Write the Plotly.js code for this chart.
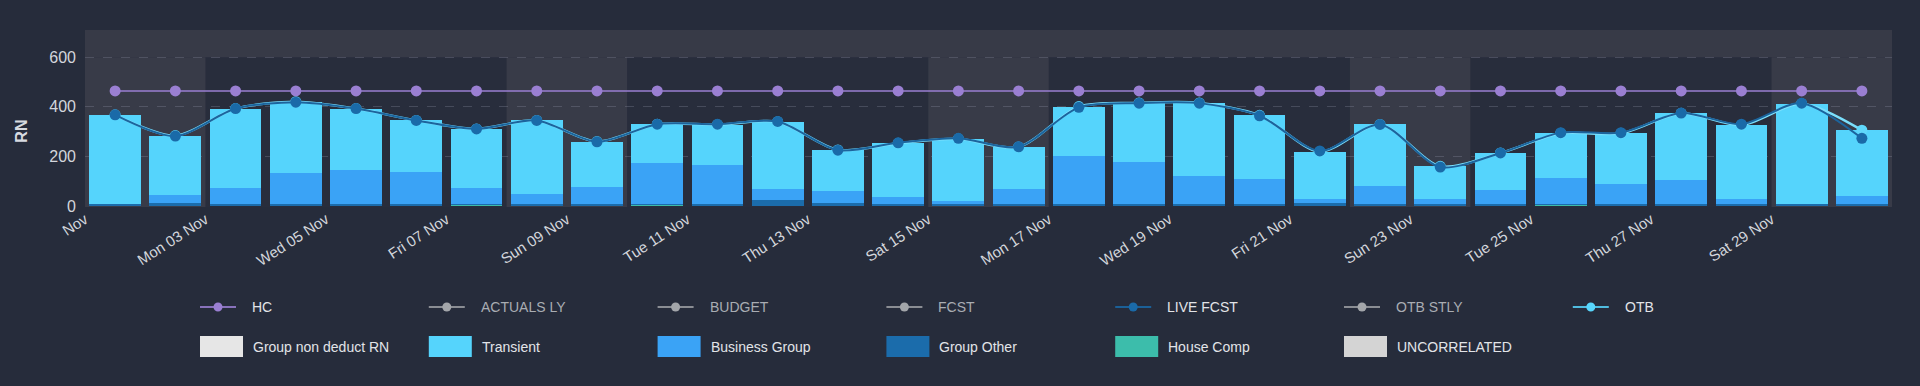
<!DOCTYPE html>
<html>
<head>
<meta charset="utf-8">
<script src="https://cdn.plot.ly/plotly-3.0.1.min.js"></script>
<style>
  html, body { margin: 0; padding: 0; background: #262c3b; }
  #chart { width: 1920px; height: 386px; }
</style>
</head>
<body>
<div id="chart"></div>
<script>
// Room nights per day, November 2025
const days = [
  '2025-11-01','2025-11-02','2025-11-03','2025-11-04','2025-11-05','2025-11-06','2025-11-07','2025-11-08','2025-11-09','2025-11-10',
  '2025-11-11','2025-11-12','2025-11-13','2025-11-14','2025-11-15','2025-11-16','2025-11-17','2025-11-18','2025-11-19','2025-11-20',
  '2025-11-21','2025-11-22','2025-11-23','2025-11-24','2025-11-25','2025-11-26','2025-11-27','2025-11-28','2025-11-29','2025-11-30'
];

// Stacked segments (bottom to top)
const houseComp     = [2, 2, 2, 2, 2, 2, 3, 2, 2, 4, 2, 2, 2, 2, 2, 2, 2, 2, 2, 2, 2, 2, 2, 2, 4, 2, 2, 2, 2, 2];
const groupOther    = [7, 10, 6, 6, 6, 6, 5, 6, 6, 6, 6, 22, 12, 6, 8, 6, 6, 6, 6, 6, 12, 8, 6, 6, 6, 6, 6, 6, 6, 6];
const businessGroup = [0, 32, 64, 126, 138, 130, 63, 40, 67, 163, 156, 44, 45, 29, 10, 60, 195, 169, 112, 101, 13, 72, 19, 56, 105, 79, 96, 21, 2, 33];
const transient     = [359, 240, 321, 287, 247, 207, 240, 297, 185, 157, 164, 272, 167, 216, 251, 170, 198, 239, 296, 257, 192, 247, 133, 150, 178, 206, 270, 298, 403, 264];

// Line series
const otb      = [368, 284, 393, 421, 393, 345, 311, 345, 260, 330, 328, 340, 226, 253, 271, 238, 401, 416, 416, 366, 219, 329, 160, 214, 293, 293, 374, 327, 413, 306];
const liveFcst = [368, 282, 393, 419, 393, 345, 311, 345, 259, 330, 330, 341, 225, 255, 273, 239, 398, 415, 415, 364, 222, 329, 157, 214, 296, 296, 375, 330, 415, 273];
const hc       = [464, 464, 464, 464, 464, 464, 464, 464, 464, 464, 464, 464, 464, 464, 464, 464, 464, 464, 464, 464, 464, 464, 464, 464, 464, 464, 464, 464, 464, 464];

// Axis labels
const tickDays = ['2025-11-01','2025-11-03','2025-11-05','2025-11-07','2025-11-09','2025-11-11','2025-11-13','2025-11-15',
                  '2025-11-17','2025-11-19','2025-11-21','2025-11-23','2025-11-25','2025-11-27','2025-11-29'];
const tickLabels = ['Nov','Mon 03 Nov','Wed 05 Nov','Fri 07 Nov','Sun 09 Nov','Tue 11 Nov','Thu 13 Nov','Sat 15 Nov',
                    'Mon 17 Nov','Wed 19 Nov','Fri 21 Nov','Sun 23 Nov','Tue 25 Nov','Thu 27 Nov','Sat 29 Nov'];
const weekendStarts = ['2025-11-01','2025-11-08','2025-11-15','2025-11-22','2025-11-29'];

// Legend entries
const lineNames  = ['HC','ACTUALS LY','BUDGET','FCST','LIVE FCST','OTB STLY','OTB'];
const lineColors = ['#9a7fd2','#a3a6aa','#a3a6aa','#a3a6aa','#1a6aa8','#a3a6aa','#58d6fc'];
const lineDimmed = [false, true, true, true, false, true, false];
const barNames   = ['Group non deduct RN','Transient','Business Group','Group Other','House Comp','UNCORRELATED'];
const barColors  = ['#e6e6e6','#55d4fc','#3aa3f6','#1b6cab','#3cbdab','#d4d4d4'];

// Figure geometry
const W = 1920, H = 386, ML = 85, MR = 28, MT = 30, MB = 179;
const PW = W - ML - MR, PH = H - MT - MB;
const px2x = p => (p - ML) / PW;
const px2y = p => (H - MB - p) / PH;
const DAY = 86400000;

const FONT = '"Liberation Sans", Arial, sans-serif';

function barTrace(name, values, color) {
  return {
    type: 'bar', name: name, x: days, y: values,
    xperiod: DAY, xperiodalignment: 'middle',
    marker: { color: color, line: { width: 0 } },
    showlegend: false, hoverinfo: 'x+y+name'
  };
}

function lineTrace(name, values, lineColor, markerColor, width) {
  return {
    type: 'scatter', mode: 'lines+markers', name: name, x: days, y: values,
    xperiod: DAY, xperiodalignment: 'middle',
    line: { color: lineColor, width: width, shape: 'spline', smoothing: 0.8 },
    marker: { color: markerColor, size: 11 },
    showlegend: false, cliponaxis: false
  };
}

const traces = [
  barTrace('House Comp', houseComp, barColors[4]),
  barTrace('Group Other', groupOther, barColors[3]),
  barTrace('Business Group', businessGroup, barColors[2]),
  barTrace('Transient', transient, barColors[1]),
  lineTrace('OTB', otb, '#7adffc', '#5fd8fc', 2.5),
  lineTrace('HC', hc, 'rgba(154,127,210,0.75)', '#9a7fd2', 2),
  lineTrace('LIVE FCST', liveFcst, '#1c649d', '#1a6aa8', 2)
];

// Background bands: upper band over the whole width, weekends down to the axis
const shapes = [{
  type: 'rect', layer: 'below', xref: 'paper', yref: 'y',
  x0: 0, x1: 1, y0: 600, y1: 720,
  fillcolor: '#373a47', line: { width: 0 }
}];
weekendStarts.forEach(d => {
  const start = new Date(d + 'T00:00:00Z').getTime();
  shapes.push({
    type: 'rect', layer: 'below', xref: 'x', yref: 'y',
    x0: start, x1: start + 2 * DAY, y0: -10, y1: 600,
    fillcolor: '#383b48', line: { width: 0 }
  });
});

// Legend, two rows: line series then stacked segments
const annotations = [];
const LEG_X0 = 200, LEG_STEP = 228.8, ROW1 = 307, ROW2 = 346.5;
lineNames.forEach((name, k) => {
  const x0 = LEG_X0 + LEG_STEP * k;
  const dim = lineDimmed[k];
  shapes.push({
    type: 'line', xref: 'paper', yref: 'paper',
    x0: px2x(x0), x1: px2x(x0 + 36), y0: px2y(ROW1), y1: px2y(ROW1),
    line: { color: lineColors[k], width: 2 }, opacity: dim ? 0.8 : 0.85
  });
  shapes.push({
    type: 'circle', xref: 'paper', yref: 'paper',
    x0: px2x(x0 + 13.5), x1: px2x(x0 + 22.5), y0: px2y(ROW1 + 4.5), y1: px2y(ROW1 - 4.5),
    fillcolor: lineColors[k], line: { width: 0 }
  });
  annotations.push({
    xref: 'paper', yref: 'paper', x: px2x(x0 + 50), y: px2y(ROW1),
    xanchor: 'left', yanchor: 'middle', showarrow: false, text: name,
    font: { family: FONT, size: 14, color: dim ? '#a9adb3' : '#e2e4e8' }
  });
});
barNames.forEach((name, k) => {
  const x0 = LEG_X0 + LEG_STEP * k;
  shapes.push({
    type: 'rect', xref: 'paper', yref: 'paper',
    x0: px2x(x0), x1: px2x(x0 + 43), y0: px2y(ROW2 + 10.5), y1: px2y(ROW2 - 10.5),
    fillcolor: barColors[k], line: { width: 0 }
  });
  annotations.push({
    xref: 'paper', yref: 'paper', x: px2x(x0 + 51), y: px2y(ROW2),
    xanchor: 'left', yanchor: 'middle', showarrow: false, text: name,
    font: { family: FONT, size: 14, color: '#e2e4e8' }
  });
});

// Vertical axis title centred on the 0–600 span
annotations.push({
  xref: 'paper', yref: 'y', x: px2x(22), y: 300,
  xanchor: 'center', yanchor: 'middle', showarrow: false, textangle: -90,
  text: '<b>RN</b>', font: { family: FONT, size: 16, color: '#d7dae0' }
});

const layout = {
  width: W, height: H,
  margin: { l: ML, r: MR, t: MT, b: MB },
  paper_bgcolor: '#262c3b',
  plot_bgcolor: '#282d3c',
  barmode: 'stack',
  bargap: 0.14,
  showlegend: false,
  font: { family: FONT, color: '#cfd2d8' },
  xaxis: {
    type: 'date',
    range: ['2025-11-01', '2025-12-01'],
    tickmode: 'array', tickvals: tickDays, ticktext: tickLabels,
    tickangle: -33,
    tickfont: { family: FONT, size: 15, color: '#d3d6dc' },
    showgrid: false, zeroline: false, showline: false, ticks: ''
  },
  yaxis: {
    range: [-4, 710],
    tickmode: 'array', tickvals: [0, 200, 400, 600],
    tickfont: { family: FONT, size: 16, color: '#d3d6dc' },
    showgrid: true, gridcolor: 'rgba(150,156,172,0.28)', griddash: 'dash', gridwidth: 1,
    zeroline: false, showline: false, ticks: '',
    ticklabelstandoff: 8
  },
  shapes: shapes,
  annotations: annotations
};

Plotly.newPlot('chart', traces, layout, { displayModeBar: false, staticPlot: true });
</script>
</body>
</html>
